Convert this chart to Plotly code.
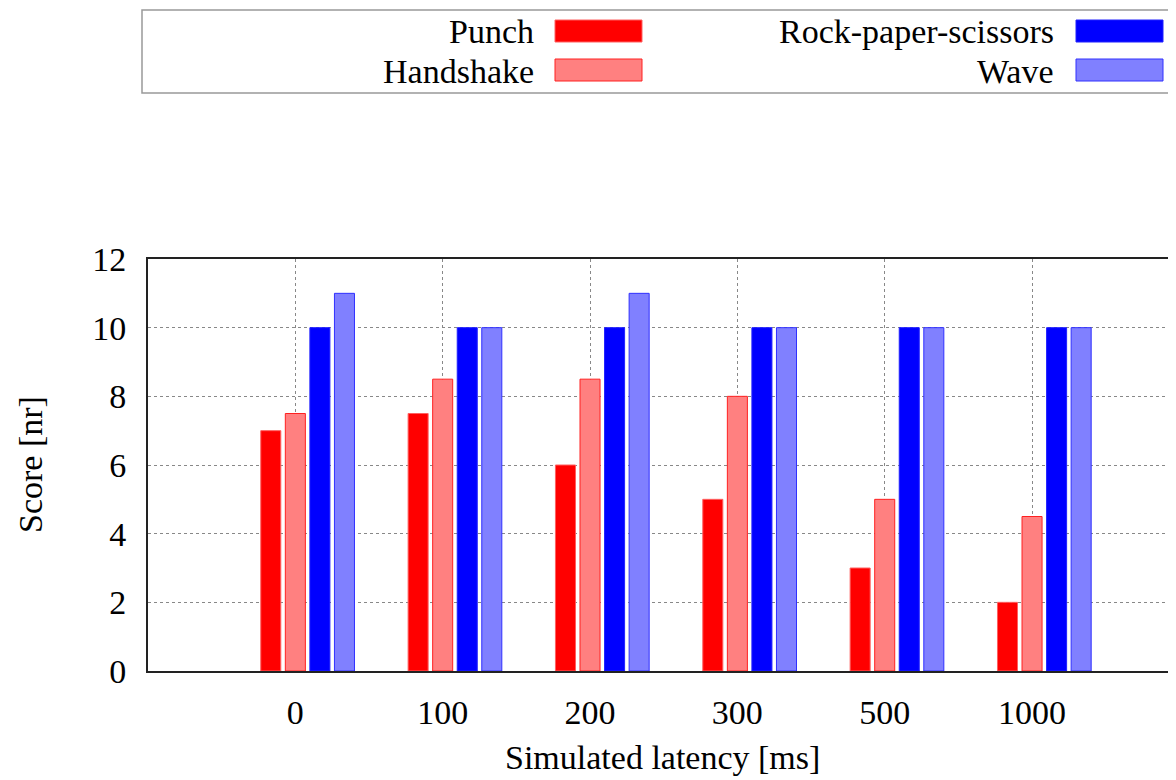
import plotly.graph_objects as go

categories = ["0", "100", "200", "300", "500", "1000"]
series_names = ["Punch", "Handshake", "Rock-paper-scissors", "Wave"]
punch = [7, 7.5, 6, 5, 3, 2]
handshake = [7.5, 8.5, 8.5, 8, 5, 4.5]
rps = [10, 10, 10, 10, 10, 10]
wave = [11, 10, 11, 10, 10, 10]
y_ticks = [0, 2, 4, 6, 8, 10, 12]

series_values = [punch, handshake, rps, wave]
fills = ["#ff0000", "#ff8080", "#0000ff", "#8080ff"]
edges = ["#ff6060", "#ff2020", "#2020ff", "#3030ff"]
offsets = [-1 / 6, 0, 1 / 6, 1 / 3]
FONT = "Liberation Serif"
FS = 34

fig = go.Figure()
for name, vals, fc, ec, off in zip(series_names, series_values, fills, edges, offsets):
    fig.add_trace(go.Bar(
        x=[i + off for i in range(len(categories))],
        y=vals,
        name=name,
        width=0.136,
        marker=dict(color=fc, line=dict(color=ec, width=1)),
        showlegend=False,
    ))

# page is offset by the 8px body margin
OFF = 8
W, H = 1168, 772
PL, PR, PT, PB = 148, 1176, 259, 671  # plot area in page pixels
ml, mr, mt, mb = PL - OFF, 0, PT - OFF, H - (PB - OFF)

fig.update_layout(
    width=W, height=H,
    margin=dict(l=ml, r=mr, t=mt, b=mb, autoexpand=False),
    paper_bgcolor="white", plot_bgcolor="white",
    barmode="overlay",
    font=dict(family=FONT, size=FS, color="black"),
)
fig.update_xaxes(
    range=[-1, 5.977],
    tickmode="array", tickvals=list(range(len(categories))), ticktext=categories,
    showgrid=True, gridcolor="#888888", griddash="dot", gridwidth=1,
    showline=True, linecolor="#222222", linewidth=2, mirror=True,
    ticks="", ticklabelstandoff=10, zeroline=False,
    tickfont=dict(family=FONT, size=FS),
)
fig.update_yaxes(
    range=[0, 12],
    tickmode="array", tickvals=y_ticks, ticktext=[str(t) for t in y_ticks],
    showgrid=True, gridcolor="#888888", griddash="dot", gridwidth=1,
    showline=True, linecolor="#222222", linewidth=2, mirror=False,
    ticks="", ticklabelstandoff=13, zeroline=False,
    tickfont=dict(family=FONT, size=FS),
)

def px(x):
    return (x - PL) / (PR - PL)

def py(y):
    return (PB - y) / (PB - PT)

annotations = [
    dict(text="Simulated latency [ms]", x=px(662), y=py(757), xref="paper", yref="paper",
         showarrow=False, xanchor="center", yanchor="middle", font=dict(family=FONT, size=FS)),
    dict(text="Score [nr]", x=px(30), y=py(465), xref="paper", yref="paper", textangle=-90,
         showarrow=False, xanchor="center", yanchor="middle", font=dict(family=FONT, size=FS)),
]
shapes = [
    dict(type="rect", xref="paper", yref="paper", x0=px(142), x1=px(1190), y0=py(93), y1=py(10),
         line=dict(color="#999999", width=1.5), fillcolor="white", layer="above"),
]
# legend entries: (text right edge, sample x0, row center y)
legend_pos = [(536, 555, 31), (536, 555, 70), (1056, 1076, 31), (1056, 1076, 70)]
for name, fc, ec, (tx, sx, ry) in zip(series_names, fills, edges, legend_pos):
    annotations.append(dict(text=name, x=px(tx), y=py(ry + 1), xref="paper", yref="paper",
                            showarrow=False, xanchor="right", yanchor="middle",
                            font=dict(family=FONT, size=FS)))
    shapes.append(dict(type="rect", xref="paper", yref="paper", x0=px(sx), x1=px(sx + 87),
                       y0=py(ry + 11), y1=py(ry - 11), fillcolor=fc,
                       line=dict(color=ec, width=1), layer="above"))

fig.update_layout(annotations=annotations, shapes=shapes)
fig.write_html("out.html")
